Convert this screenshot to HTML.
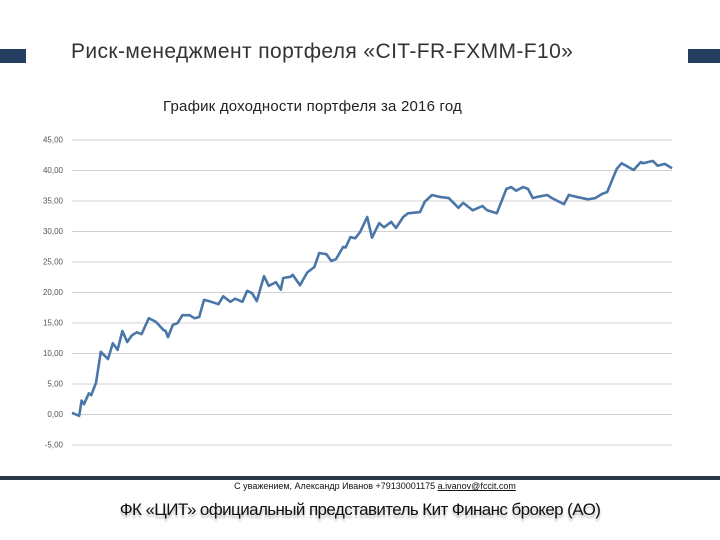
<!DOCTYPE html>
<html><head><meta charset="utf-8"><style>
body{margin:0;width:720px;height:540px;background:#fff;font-family:"Liberation Sans",sans-serif;overflow:hidden;position:relative}
.abs{position:absolute}
</style></head><body>
<div class="abs" style="left:0;top:49px;width:26px;height:14px;background:#243f60"></div>
<div class="abs" style="left:688px;top:49px;width:32px;height:14px;background:#243f60"></div>
<div class="abs" style="left:71px;top:40px;font-size:21px;color:#333;white-space:nowrap;letter-spacing:0.4px">Риск-менеджмент портфеля «CIT-FR-FXMM-F10»</div>
<div class="abs" style="left:163px;top:98px;font-size:15px;color:#222;white-space:nowrap;letter-spacing:0.2px">График доходности портфеля за 2016 год</div>
<svg class="abs" style="left:0;top:0" width="720" height="540">
<g id="grid"></g><g id="labels"></g><path id="line" fill="none" stroke="#4a76a8" stroke-width="2.6" stroke-linejoin="round"/>
</svg>
<div class="abs" style="left:0;top:476px;width:720px;height:4px;background:#2b3a4a"></div>
<div class="abs" style="left:0;top:481px;width:750px;text-align:center;font-size:9px;color:#111">С уважением, Александр Иванов +79130001175 <span style="text-decoration:underline">a.ivanov@fccit.com</span></div>
<div class="abs" style="left:0;top:500px;width:720px;text-align:center;font-size:17px;letter-spacing:-0.6px;color:#111;text-shadow:0 3px 2px #bbb">ФК «ЦИТ» официальный представитель Кит Финанс брокер (АО)</div>
<script>
const ticks=[45,40,35,30,25,20,15,10,5,0,-5];
const tickLabels=["45,00","40,00","35,00","30,00","25,00","20,00","15,00","10,00","5,00","0,00","-5,00"];
const days=[0,3,4,5,7,8,10,12,15,17,19,21,23,25,27,29,32,35,38,39,40,42,44,46,49,51,53,55,58,61,63,66,68,71,73,75,77,80,82,85,87,88,91,92,95,98,101,103,106,108,110,113,114,116,118,120,123,125,128,130,133,135,138,140,145,147,150,153,157,161,163,167,171,173,177,181,183,185,188,190,192,194,198,200,205,207,210,215,218,221,223,227,229,234,237,238,242,244,247,250];
const values=[0.2,-0.3,2.2,1.6,3.4,3.1,5.1,10.2,9.0,11.6,10.5,13.6,11.8,12.9,13.4,13.1,15.7,15.1,13.8,13.6,12.6,14.6,14.9,16.2,16.2,15.7,15.9,18.7,18.4,18.0,19.3,18.4,18.9,18.4,20.2,19.8,18.5,22.6,21.0,21.6,20.4,22.3,22.5,22.8,21.1,23.2,24.1,26.4,26.2,25.1,25.4,27.4,27.3,29.0,28.8,29.8,32.3,28.9,31.3,30.6,31.5,30.5,32.3,32.9,33.1,34.8,35.9,35.6,35.4,33.8,34.6,33.4,34.1,33.4,32.9,36.9,37.2,36.6,37.2,36.9,35.4,35.6,35.9,35.4,34.4,35.9,35.6,35.2,35.4,36.1,36.4,40.2,41.1,40.0,41.3,41.1,41.5,40.7,41.0,40.3];
const X0=72,X1=672,Y0=414,PX=6.1,DMAX=250;
const xs=d=>X0+(X1-X0)*d/DMAX, ys=v=>Y0-v*PX;
const ns="http://www.w3.org/2000/svg";
const g=document.getElementById('grid'),lb=document.getElementById('labels');
ticks.forEach((t,i)=>{
 const l=document.createElementNS(ns,'line');
 
 
 l.setAttribute('x1',X0);l.setAttribute('x2',X1);l.setAttribute('y1',ys(t)+0.5);l.setAttribute('y2',ys(t)+0.5);
 l.setAttribute('stroke','#d0d0d0');l.setAttribute('stroke-width','1');g.appendChild(l);
 const tx=document.createElementNS(ns,'text');
 
 
 tx.setAttribute('x',63);tx.setAttribute('y',ys(t)+3);tx.setAttribute('text-anchor','end');
 tx.setAttribute('font-size','8');tx.setAttribute('fill','#555');tx.setAttribute('font-family','Liberation Sans');
 tx.textContent=tickLabels[i];lb.appendChild(tx);
});
const p=document.getElementById('line');


p.setAttribute('d',days.map((d,i)=>(i?'L':'M')+xs(d).toFixed(1)+' '+ys(values[i]).toFixed(1)).join(' '));
</script>
</body></html>
